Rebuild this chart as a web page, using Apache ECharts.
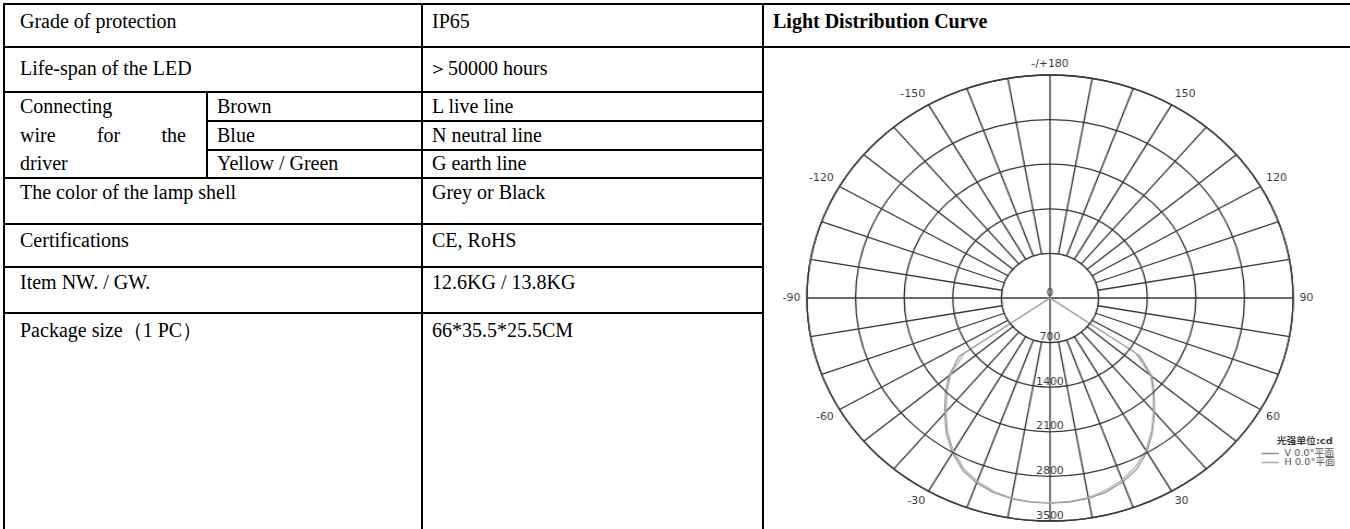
<!DOCTYPE html>
<html>
<head>
<meta charset="utf-8">
<script src="https://cdn.jsdelivr.net/npm/echarts@6/dist/echarts.min.js"></script>
<style>
  html, body { margin: 0; padding: 0; background: #fff; }
  body { width: 1350px; height: 529px; position: relative; overflow: hidden;
         font-family: "Liberation Serif", "Times New Roman", serif; font-size: 20px; color: #000; }
  .h { position: absolute; height: 1.5px; background: #000; }
  .v { position: absolute; width: 1.5px; background: #000; }
  .t { position: absolute; line-height: 24px; white-space: nowrap; }
  .just { text-align: justify; text-align-last: justify; width: 166px; white-space: normal; }
  /* 原图是横向略拉伸的，这里用 scaleX 还原 */
  #chart { position: absolute; left: 765px; top: 50px; width: 585px; height: 479px;
           transform: scaleX(1.09); transform-origin: 285px 0; }
</style>
</head>
<body>
<!-- 表格线 -->
<div class="h" style="left:4px; top:3px; width:1346px"></div>
<div class="h" style="left:4px; top:46px; width:1346px"></div>
<div class="h" style="left:4px; top:91px; width:760px"></div>
<div class="h" style="left:207px; top:120px; width:557px"></div>
<div class="h" style="left:207px; top:149px; width:557px"></div>
<div class="h" style="left:4px; top:177px; width:760px"></div>
<div class="h" style="left:4px; top:223px; width:760px"></div>
<div class="h" style="left:4px; top:266px; width:760px"></div>
<div class="h" style="left:4px; top:312px; width:760px"></div>
<div class="v" style="left:3px; top:3px; height:530px"></div>
<div class="v" style="left:206px; top:91px; height:88px"></div>
<div class="v" style="left:421px; top:3px; height:530px"></div>
<div class="v" style="left:762px; top:3px; height:530px"></div>

<!-- 表格文字 -->
<div class="t" style="left:20px; top:9px">Grade of protection</div>
<div class="t" style="left:432px; top:9px">IP65</div>
<div class="t" style="left:773px; top:9px; font-weight:bold">Light Distribution Curve</div>
<div class="t" style="left:20px; top:56px">Life-span of the LED</div>
<div class="t" style="left:428px; top:56px">＞50000 hours</div>
<div class="t" style="left:20px; top:94px">Connecting</div>
<div class="t just" style="left:20px; top:123px">wire for the</div>
<div class="t" style="left:20px; top:151px">driver</div>
<div class="t" style="left:217px; top:94px">Brown</div>
<div class="t" style="left:432px; top:94px">L live line</div>
<div class="t" style="left:217px; top:123px">Blue</div>
<div class="t" style="left:432px; top:123px">N neutral line</div>
<div class="t" style="left:217px; top:151px">Yellow / Green</div>
<div class="t" style="left:432px; top:151px">G earth line</div>
<div class="t" style="left:20px; top:180px">The color of the lamp shell</div>
<div class="t" style="left:432px; top:180px">Grey or Black</div>
<div class="t" style="left:20px; top:228px">Certifications</div>
<div class="t" style="left:432px; top:228px">CE, RoHS</div>
<div class="t" style="left:20px; top:270px">Item NW. / GW.</div>
<div class="t" style="left:432px; top:270px">12.6KG / 13.8KG</div>
<div class="t" style="left:20px; top:318px">Package size（1 PC）</div>
<div class="t" style="left:432px; top:318px">66*35.5*25.5CM</div>

<div id="chart"></div>

<script>
// 径向刻度 (cd)
const radiusTicks = [0, 700, 1400, 2100, 2800, 3500];
// 放射线角度
const spokeAngles = [0, 10, 20, 30, 40, 50, 60, 70, 80, 90, 100, 110, 120, 130, 140, 150, 160, 170,
  180, 190, 200, 210, 220, 230, 240, 250, 260, 270, 280, 290, 300, 310, 320, 330, 340, 350];
// 曲线角度 (0 = 正下方)
const curveAngles = [-90, -85, -80, -75, -70, -65, -60, -55, -50, -45, -40, -35, -30, -25, -20, -15, -10, -5,
  0, 5, 10, 15, 20, 25, 30, 35, 40, 45, 50, 55, 60, 65, 70, 75, 80, 85, 90];
// V 0.0° 平面
const vPlane = [0, 0, 0, 0, 0, 0, 0, 1600, 1900, 2130, 2360, 2600, 2810, 2980, 3090, 3160, 3200, 3215,
  3220, 3215, 3195, 3150, 3070, 2960, 2790, 2570, 2340, 2120, 1920, 1570, 0, 0, 0, 0, 0, 0, 0];
// H 0.0° 平面
const hPlane = [0, 0, 0, 0, 0, 0, 0, 1500, 1870, 2100, 2330, 2570, 2780, 2950, 3060, 3140, 3190, 3210,
  3215, 3205, 3180, 3120, 3040, 2920, 2760, 2550, 2320, 2100, 1890, 1500, 0, 0, 0, 0, 0, 0, 0];

const gridColor = '#383838';
const labelFont = 'DejaVu Sans, Noto Sans CJK SC, sans-serif';

function toAxisAngle(a) {
  return a < 0 ? a + 360 : a;
}

let myChart = echarts.init(document.getElementById('chart'));
var option = {
  animation: false,
  title: {
    text: '光强单位:cd',
    left: 493,
    top: 387,
    padding: 0,
    textStyle: { fontSize: 9, fontWeight: 'bold', color: '#333', fontFamily: labelFont }
  },
  legend: {
    orient: 'vertical',
    left: 479,
    top: 399,
    padding: 0,
    itemGap: 0,
    itemWidth: 16,
    itemHeight: 1.5,
    icon: 'rect',
    textStyle: { fontSize: 9, color: '#444', fontFamily: labelFont },
    data: ['V 0.0°平面', 'H 0.0°平面']
  },
  polar: {
    center: [285, 248],
    radius: 223
  },
  angleAxis: {
    type: 'value',
    min: 0,
    max: 360,
    interval: 30,
    startAngle: 270,
    clockwise: false,
    axisLine: { lineStyle: { color: gridColor, width: 1.3 } },
    axisTick: { show: false },
    splitLine: { show: false },
    axisLabel: {
      margin: 6,
      fontSize: 10,
      color: '#333',
      fontFamily: labelFont,
      formatter: function (v) {
        if (v === 0 || v === 360) return '';
        if (v === 180) return '-/+180';
        return v > 180 ? String(v - 360) : String(v);
      }
    }
  },
  radiusAxis: {
    type: 'value',
    min: radiusTicks[0],
    max: radiusTicks[radiusTicks.length - 1],
    interval: radiusTicks[1] - radiusTicks[0],
    z: 5,
    axisLine: { show: false },
    axisTick: { show: false },
    axisLabel: {
      margin: 0,
      align: 'center',
      verticalAlign: 'bottom',
      fontSize: 10,
      color: '#333',
      fontFamily: labelFont,
      formatter: (v) => String(v)
    },
    splitLine: { lineStyle: { color: gridColor, width: 1.3 } }
  },
  series: [
    {
      // 放射线：主轴从圆心开始，其余从第一圈开始
      type: 'custom',
      coordinateSystem: 'polar',
      silent: true,
      z: 1,
      data: spokeAngles.map((a) => [radiusTicks[radiusTicks.length - 1], a]),
      renderItem: function (params, api) {
        const a = api.value(1);
        const inner = a % 90 === 0 ? 0 : radiusTicks[1];
        const p0 = api.coord([inner, a]);
        const p1 = api.coord([api.value(0), a]);
        return {
          type: 'line',
          shape: { x1: p0[0], y1: p0[1], x2: p1[0], y2: p1[1] },
          style: { stroke: gridColor, lineWidth: 1.3 }
        };
      }
    },
    {
      name: 'V 0.0°平面',
      type: 'line',
      coordinateSystem: 'polar',
      showSymbol: false,
      silent: true,
      z: 3,
      data: curveAngles.map((a, i) => [vPlane[i], toAxisAngle(a)]),
      itemStyle: { color: '#8f8f8f' },
      lineStyle: { color: '#8f8f8f', width: 1.2 }
    },
    {
      name: 'H 0.0°平面',
      type: 'line',
      coordinateSystem: 'polar',
      showSymbol: false,
      silent: true,
      z: 3,
      data: curveAngles.map((a, i) => [hPlane[i], toAxisAngle(a)]),
      itemStyle: { color: '#ababab' },
      lineStyle: { color: '#ababab', width: 1.2 }
    }
  ]
};
option && myChart.setOption(option);
</script>
</body>
</html>
